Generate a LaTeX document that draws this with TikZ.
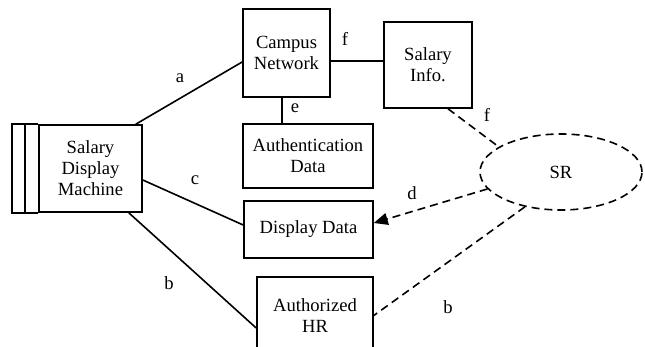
\documentclass[tikz,border=0pt]{standalone}
\usepackage{fontspec}
\setmainfont{Liberation Serif}
\usepackage{tikz}
\usetikzlibrary{shapes}
\usetikzlibrary{calc,arrows.meta}

\begin{document}
\begin{tikzpicture}[x=0.5pt,y=-0.5pt,line width=0.8pt,
  every node/.style={font=\fontsize{9.3}{10.5}\selectfont},
  box/.style={draw, align=center, inner sep=0pt},
  dline/.style={dash pattern=on 4pt off 2.5pt},
  lbl/.style={inner sep=0pt}
]
\clip (0,0) rectangle (645,347);
\node[box, minimum width=51.5pt, minimum height=43.5pt](machine) at (90.5,168.5) {Salary\\Display\\Machine};
\draw (machine.north west) -- ++(-26,0) |- (machine.south west);
\draw ([xshift=-6.5pt]machine.north west) -- ([xshift=-6.5pt]machine.south west);
\node[box, minimum width=43.5pt, minimum height=44pt](campus) at (286.5,53) {Campus\\Network};
\node[box, minimum width=44pt, minimum height=43pt](info) at (428,65) {Salary\\Info.};
\node[box, minimum width=65pt, minimum height=32pt](auth) at (308,156) {Authentication\\Data};
\node[box, minimum width=64.5pt, minimum height=28.5pt](disp) at (308.5,229.5) {Display Data};
\node[box, minimum width=58pt, minimum height=38.5pt](hr) at (315,315.5) {Authorized\\HR};
\node[draw, ellipse, dline, minimum width=81pt, minimum height=38pt, inner sep=0pt](sr) at (561,172) {SR};

% solid links
\draw ([xshift=-3.5pt]machine.north east) -- ($(campus.north west)!0.6!(campus.south west)$);
\draw ([yshift=-5.75pt]machine.east) -- ([yshift=2.25pt]disp.west);
\draw ([xshift=-7pt]machine.south east) -- ([yshift=-6.25pt]hr.west);
\draw ([yshift=-4pt]campus.east) -- ([yshift=-4pt]campus.east -| info.west);
\draw ([xshift=-2.25pt]campus.south) -- ([xshift=-2.25pt]campus.south |- auth.north);

% dashed links to SR
\draw[dline] ([xshift=10pt]info.south) -- (sr.158);
\draw[dline, -{Triangle[length=7pt,width=6pt]}] (sr.193) -- ([yshift=3.25pt]disp.east);
\draw[dline] (sr.224) -- (hr.east);

\node[lbl](la) at (180,78) {a};
\node[lbl](lc) at (195,180) {c};
\node[lbl](lb) at (169,283) {b};
\node[lbl](ld) at (412,193) {d};
\node[lbl](lb2) at (448,307) {b};
\node[lbl](lf) at (345,39) {f};
\node[lbl](le) at (295,108) {e};
\node[lbl](lf2) at (487,115) {f};
\end{tikzpicture}
\end{document}
